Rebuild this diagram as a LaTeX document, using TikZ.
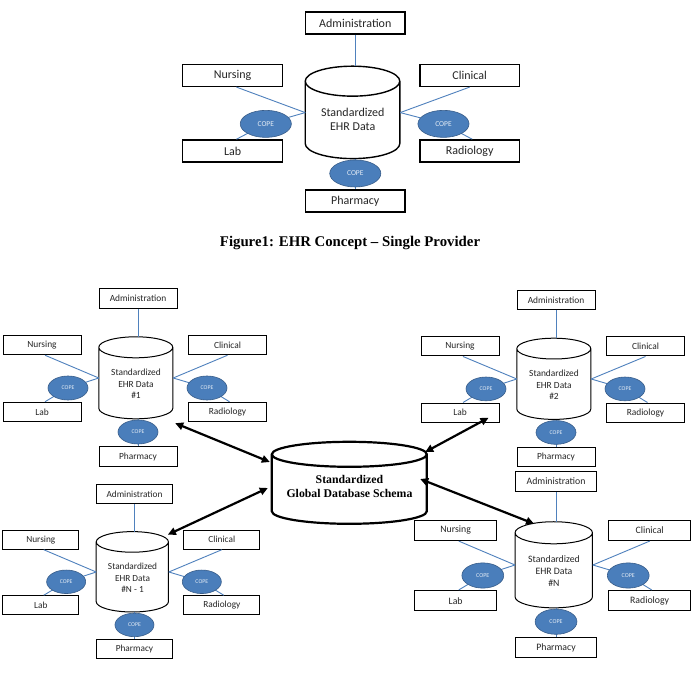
\documentclass[tikz,border=0pt]{standalone}
\usepackage{fontspec}
\setmainfont{Carlito}
\newfontfamily\serifb[Ligatures=TeX]{Liberation Serif}
\usetikzlibrary{shapes.geometric,arrows.meta}
\definecolor{copefill}{HTML}{4A7EBB}
\definecolor{copeedge}{HTML}{385D8A}
\definecolor{linkc}{HTML}{4F81BD}
\tikzset{
 box/.style={draw=black, line width=\lw pt, fill=white, minimum width=\sx*78pt, minimum height=\sy*19.5pt, inner sep=0pt, font=\fontsize{\fs}{\fsb}\selectfont, text=black!85},
 dbnode/.style={rectangle, inner sep=0pt, minimum width=\sx*74pt, minimum height=\sy*82pt},
 cylline/.style={draw=black, line width=\lw pt, fill=white},
 dbtext/.style={align=center, font=\fontsize{\fs}{\fsb}\selectfont, text=black!85, inner sep=0pt},
 link/.style={draw=linkc, line width=0.9pt},
 cope/.style={ellipse, fill=copefill, draw=copeedge, line width=0.6pt, minimum width=\sx*40pt, minimum height=\sy*24pt, inner sep=0pt, text=white!85!copefill, font=\fontsize{\cfs}{\cfs}\selectfont},
 bigarrow/.style={draw=black, line width=2.2pt, {Triangle[length=8pt,width=7.5pt]}-{Triangle[length=8pt,width=7.5pt]}},
 gdbline/.style={draw=black, line width=2.2pt, fill=white},
 gdbtext/.style={align=center, font=\serifb\bfseries\fontsize{11.8}{14}\selectfont, inner sep=0pt},
 caption/.style={font=\serifb\bfseries\fontsize{14.8}{17}\selectfont, inner sep=0pt},
}
\newcommand\ehrdiag[2]{%
  \node[box] (#1-adm) at (1,79.5) {Administration};
  \node[box] (#1-nur) at (-95,33) {Nursing};
  \node[box] (#1-cli) at (90.5,33) {Clinical};
  \node[box] (#1-lab) at (-95,-34) {Lab};
  \node[box] (#1-rad) at (90.5,-34) {Radiology};
  \node[box] (#1-pha) at (1,-78.5) {Pharmacy};
  \node[dbnode] (#1-db) at (-1,0) {};
  \draw[cylline] (#1-db.north west) ++(0,-\ry) -- ++(0,{2*\ry-82})
     arc[start angle=180,end angle=360,x radius=37,y radius=\ry]
     -- ++(0,{82-2*\ry})
     arc[start angle=0,end angle=180,x radius=37,y radius=\ry]
     arc[start angle=180,end angle=360,x radius=37,y radius=\ry];
  \node[dbtext] (#1-txt) at (-1,-6) {#2};
  \coordinate (#1-clp) at (-69,-10);
  \coordinate (#1-crp) at (70,-10);
  \coordinate (#1-cbp) at (1,-54);
  \draw[link] (#1-adm.south) -- (#1-adm.south |- #1-db.north);
  \draw[link] (#1-nur.south) ++(3,0) -- (#1-db.west);
  \draw[link] (#1-cli.south) -- (#1-db.east);
  \draw[link] (#1-db.west) -- (#1-clp) -- ([xshift=3pt]#1-lab.north);
  \draw[link] (#1-db.east) -- (#1-crp) -- ([xshift=2pt]#1-rad.north);
  \draw[link] (#1-pha.north |- #1-db.south) -- (#1-cbp) -- (#1-pha.north);
  \node[cope] (#1-cl) at (#1-clp) {COPE};
  \node[cope] (#1-cr) at (#1-crp) {COPE};
  \node[cope] (#1-cb) at (#1-cbp) {COPE};
}
\begin{document}
\begin{tikzpicture}[x=1pt,y=1pt]
\useasboundingbox (0,0) rectangle (696,678);
\fill[white] (0,0) rectangle (696,678);

% top diagram
\begin{scope}[shift={(354,565.4)}, xscale=1.278, yscale=1.127]
  \def\sx{1.278}\def\sy{1.127}\def\fs{12}\def\fsb{14}\def\cfs{7.5}\def\ry{13.3}\def\lw{1.4}
  \ehrdiag{t}{Standardized\\EHR Data}
\end{scope}
\node[caption] (cap) at (350,435) {Figure1: EHR Concept – Single Provider};

% diagram 1
\begin{scope}[shift={(137,300)}]
  \def\sx{1}\def\sy{1}\def\fs{9.4}\def\fsb{11.5}\def\cfs{5.8}\def\ry{10.5}\def\lw{1}
  \ehrdiag{a}{Standardized\\EHR Data\\\#1}
\end{scope}

% diagram 2
\begin{scope}[shift={(555,299)}, yscale=0.99]
  \def\sx{1}\def\sy{0.99}\def\fs{9.4}\def\fsb{11.5}\def\cfs{5.8}\def\ry{10.5}\def\lw{1}
  \ehrdiag{b}{Standardized\\EHR Data\\\#2}
\end{scope}

% diagram 3
\begin{scope}[shift={(133.5,106)}, xscale=0.976, yscale=0.98]
  \def\sx{0.976}\def\sy{0.98}\def\fs{9.3}\def\fsb{11.3}\def\cfs{5.8}\def\ry{10.5}\def\lw{1}
  \ehrdiag{c}{Standardized\\EHR Data\\\#N - 1}
\end{scope}

% diagram 4
\begin{scope}[shift={(555,113)}, xscale=1.046, yscale=1.05]
  \def\sx{1.046}\def\sy{1.05}\def\fs{9.8}\def\fsb{12}\def\cfs{6}\def\ry{10.5}\def\lw{1}
  \ehrdiag{d}{Standardized\\EHR Data\\\#N}
\end{scope}

% global database
\node[rectangle, inner sep=0pt, minimum width=155pt, minimum height=82pt] (gdb) at (349.5,195) {};
\draw[gdbline] (gdb.north west) ++(0,-12.5) -- ++(0,-57)
   arc[start angle=180,end angle=360,x radius=77.5,y radius=12.5]
   -- ++(0,57)
   arc[start angle=0,end angle=180,x radius=77.5,y radius=12.5]
   arc[start angle=180,end angle=360,x radius=77.5,y radius=12.5];
\node[gdbtext] (gdbt) at (349.5,192) {Standardized\\Global Database Schema};

% arrows
\draw[bigarrow] ([shift={(2,-4)}]a-db.south east) -- ([shift={(-2,21)}]gdb.west);
\draw[bigarrow] ([shift={(-2,31)}]gdb.east) -- ([shift={(-11,5)}]b-lab.south east);
\draw[bigarrow] ([shift={(-4,-5)}]gdb.west) -- ([shift={(-1,-3)}]c-db.north east);
\draw[bigarrow] ([shift={(-7,4)}]gdb.east) -- ([shift={(19,-2)}]d-db.north west);
\end{tikzpicture}
\end{document}
